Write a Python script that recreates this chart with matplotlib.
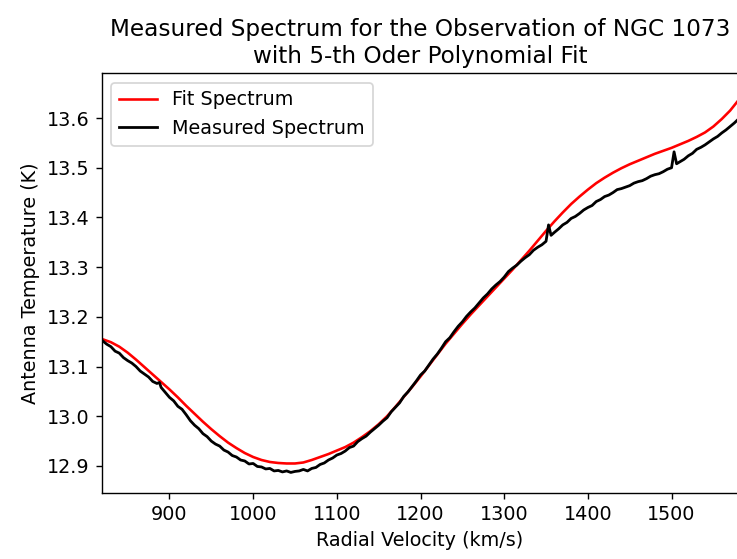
import matplotlib
matplotlib.use("Agg")
import matplotlib.pyplot as plt

# Fit spectrum (5th-order polynomial)
fit_velocity = [820, 830, 840, 850, 860, 870, 880, 890, 900, 910, 920, 930,
                940, 950, 960, 970, 980, 990, 1000, 1010, 1020, 1030, 1040,
                1050, 1060, 1070, 1080, 1090, 1100, 1110, 1120, 1130, 1140,
                1150, 1160, 1170, 1180, 1190, 1200, 1210, 1220, 1230, 1240,
                1250, 1260, 1270, 1280, 1290, 1300, 1310, 1320, 1330, 1340,
                1350, 1360, 1370, 1380, 1390, 1400, 1410, 1420, 1430, 1440,
                1450, 1460, 1470, 1480, 1490, 1500, 1510, 1520, 1530, 1540,
                1550, 1560, 1570, 1580]
fit_temp = [13.155, 13.149, 13.140, 13.128, 13.114, 13.099, 13.084, 13.069,
            13.054, 13.038, 13.021, 13.005, 12.989, 12.974, 12.960, 12.947,
            12.936, 12.926, 12.918, 12.912, 12.908, 12.906, 12.905, 12.905,
            12.907, 12.912, 12.918, 12.924, 12.931, 12.938, 12.947, 12.958,
            12.970, 12.984, 13.000, 13.019, 13.039, 13.059, 13.080, 13.102,
            13.124, 13.146, 13.166, 13.186, 13.205, 13.223, 13.241, 13.259,
            13.277, 13.295, 13.314, 13.333, 13.353, 13.373, 13.392, 13.410,
            13.427, 13.442, 13.456, 13.469, 13.480, 13.490, 13.499, 13.507,
            13.514, 13.521, 13.528, 13.534, 13.540, 13.547, 13.554, 13.562,
            13.571, 13.583, 13.598, 13.615, 13.636]

# Measured spectrum
meas_velocity = [820, 825, 830, 835, 840, 845, 850, 855, 860, 865, 870, 875,
                 880, 885, 888, 890, 895, 900, 905, 910, 915, 920, 925, 930,
                 935, 940, 945, 950, 955, 960, 965, 970, 975, 980, 985, 990,
                 995, 1000, 1005, 1010, 1015, 1020, 1025, 1030, 1035, 1040,
                 1045, 1050, 1055, 1060, 1065, 1070, 1075, 1080, 1085, 1090,
                 1095, 1100, 1105, 1110, 1115, 1120, 1125, 1130, 1135, 1140,
                 1145, 1150, 1155, 1160, 1165, 1170, 1175, 1180, 1185, 1190,
                 1195, 1200, 1205, 1210, 1215, 1220, 1225, 1230, 1235, 1240,
                 1245, 1250, 1255, 1260, 1265, 1270, 1275, 1280, 1285, 1290,
                 1295, 1300, 1305, 1310, 1315, 1320, 1325, 1330, 1335, 1340,
                 1345, 1350, 1353, 1356, 1360, 1365, 1370, 1375, 1380, 1385,
                 1390, 1395, 1400, 1405, 1410, 1415, 1420, 1425, 1430, 1435,
                 1440, 1445, 1450, 1455, 1460, 1465, 1470, 1475, 1480, 1485,
                 1490, 1495, 1500, 1503, 1506, 1510, 1515, 1520, 1525, 1530,
                 1535, 1540, 1545, 1550, 1555, 1560, 1565, 1570, 1575, 1580]
meas_temp = [13.152, 13.145, 13.140, 13.131, 13.127, 13.118, 13.112, 13.107,
             13.100, 13.091, 13.085, 13.079, 13.070, 13.066, 13.068, 13.058,
             13.048, 13.038, 13.031, 13.020, 13.014, 13.003, 12.991, 12.982,
             12.975, 12.965, 12.959, 12.950, 12.944, 12.940, 12.932, 12.928,
             12.921, 12.918, 12.912, 12.910, 12.904, 12.905, 12.899, 12.898,
             12.894, 12.895, 12.890, 12.891, 12.888, 12.890, 12.887, 12.889,
             12.890, 12.893, 12.890, 12.895, 12.897, 12.903, 12.906, 12.912,
             12.916, 12.922, 12.925, 12.930, 12.937, 12.940, 12.949, 12.955,
             12.960, 12.968, 12.975, 12.982, 12.990, 12.997, 13.009, 13.018,
             13.027, 13.040, 13.049, 13.060, 13.071, 13.083, 13.091, 13.103,
             13.115, 13.125, 13.137, 13.150, 13.158, 13.170, 13.181, 13.190,
             13.201, 13.210, 13.218, 13.228, 13.238, 13.246, 13.256, 13.264,
             13.271, 13.280, 13.291, 13.298, 13.304, 13.312, 13.319, 13.325,
             13.334, 13.340, 13.345, 13.352, 13.385, 13.364, 13.370, 13.377,
             13.385, 13.390, 13.398, 13.402, 13.408, 13.415, 13.420, 13.424,
             13.432, 13.436, 13.442, 13.445, 13.450, 13.456, 13.458, 13.461,
             13.464, 13.469, 13.472, 13.474, 13.478, 13.483, 13.486, 13.488,
             13.492, 13.497, 13.500, 13.532, 13.508, 13.512, 13.517, 13.524,
             13.529, 13.537, 13.541, 13.546, 13.552, 13.558, 13.563, 13.570,
             13.576, 13.583, 13.590, 13.598]

x_ticks = [900, 1000, 1100, 1200, 1300, 1400, 1500]
y_ticks = [12.9, 13.0, 13.1, 13.2, 13.3, 13.4, 13.5, 13.6]

title = "Measured Spectrum for the Observation of NGC 1073\nwith 5-th Oder Polynomial Fit"
x_label = "Radial Velocity (km/s)"
y_label = "Antenna Temperature (K)"

W, H, DPI = 737, 559, 125
plt.rcParams["font.size"] = 11
fig = plt.figure(figsize=(W / DPI, H / DPI), dpi=DPI)
ax = fig.add_axes([101.7 / W, (H - 493.3) / H, (738.5 - 101.7) / W, (493.3 - 73.3) / H])

ax.plot(fit_velocity, fit_temp, color="red", lw=1.5, label="Fit Spectrum")
ax.plot(meas_velocity, meas_temp, color="black", lw=1.6, label="Measured Spectrum")

ax.set_xlim(819, 1580)
ax.set_ylim(12.845, 13.69)
ax.set_xticks(x_ticks)
ax.set_yticks(y_ticks)
ax.tick_params(labelsize=11)
ax.set_xlabel(x_label, fontsize=11)
ax.set_ylabel(y_label, fontsize=11)
ax.set_title(title, fontsize=13.3)
ax.legend(loc="upper left", fontsize=11)

fig.savefig("out.png", dpi=DPI)
